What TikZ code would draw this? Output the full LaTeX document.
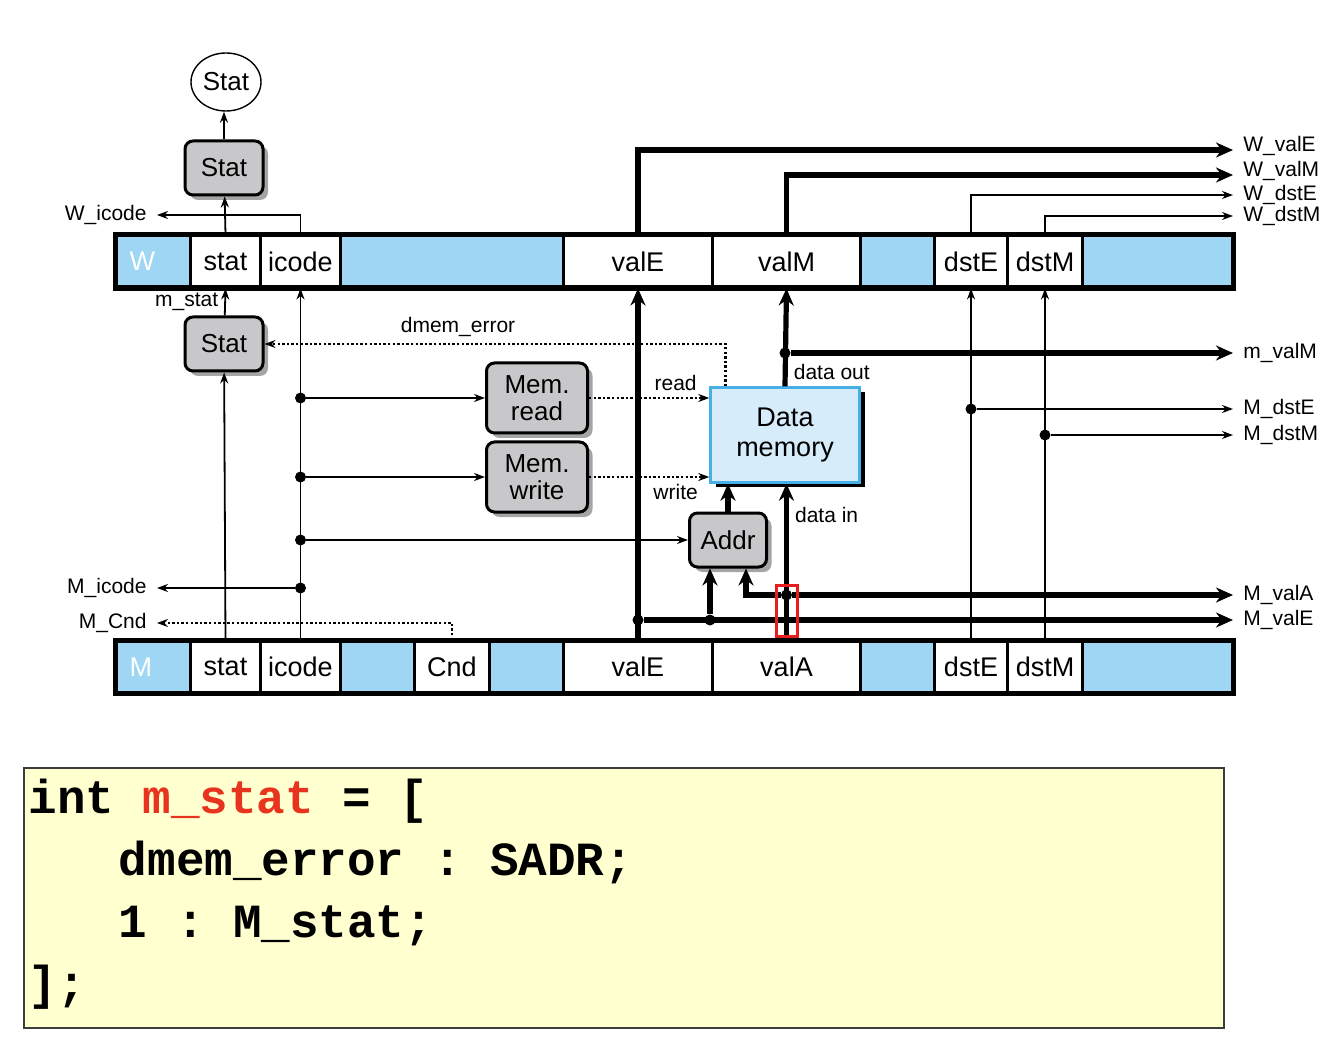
\documentclass[tikz,border=0pt]{standalone}
\usepackage{fontspec}
\setmainfont{Liberation Sans}
\newfontfamily\hclfont{Liberation Mono}
\usepackage{xcolor}
\definecolor{regblue}{RGB}{158,214,243}
\definecolor{memfill}{RGB}{214,236,250}
\definecolor{memedge}{RGB}{70,175,230}
\definecolor{boxgray}{RGB}{200,200,202}
\definecolor{shadowgray}{RGB}{165,165,168}
\definecolor{codebg}{RGB}{255,255,208}
\definecolor{codeedge}{RGB}{60,60,60}
\definecolor{hclred}{RGB}{232,52,30}
\definecolor{focusred}{RGB}{232,30,30}
\usepackage{tikz}
\usetikzlibrary{arrows.meta}
\usetikzlibrary{shapes.geometric}
\usetikzlibrary{shadows}
\newcommand{\unitpx}{0.5pt}
\newcommand{\heightreg}{25.5pt}
\newcommand{\widthunit}{39pt}
\newcommand{\heightunit}{27pt}
\newcommand{\cellfont}{\fontsize{13.5}{15}\selectfont}
\newcommand{\boxfont}{\fontsize{13}{13.5}\selectfont}
\newcommand{\sigfont}{\fontsize{10.5}{12}\selectfont}
\newcommand{\hclgap}[1]{\hspace*{#1em}}
\tikzset{
    cell/.style={anchor=west, draw, line width=1.5pt, fill=white, inner sep=0pt,
        minimum height=\heightreg, font=\cellfont},
    padcell/.style={cell, fill=regblue},
    tagcell/.style={padcell, text=white, text width=24pt, align=left, inner xsep=6.5pt},
    unit/.style={draw, line width=1.5pt, rounded corners=4pt, fill=boxgray, align=center,
        font=\boxfont, minimum width=\widthunit, minimum height=\heightunit,
        drop shadow={shadow xshift=2.5pt, shadow yshift=-2.5pt, fill=shadowgray, opacity=1}},
    memory/.style={draw=memedge, line width=1.2pt, fill=memfill, align=center,
        font=\fontsize{13.5}{15}\selectfont, minimum width=74.5pt, minimum height=47.5pt,
        drop shadow={shadow xshift=2.5pt, shadow yshift=-2.5pt, fill=black, opacity=1}},
    status/.style={draw, ellipse, line width=0.7pt, fill=white, font=\boxfont,
        inner sep=0.5pt, minimum width=35pt, minimum height=29pt},
    sig/.style={font=\sigfont, inner sep=3pt},
    port/.style={sig, inner xsep=5pt},
    wire/.style={line width=0.9pt, -{Stealth[length=5.5pt, width=4pt]}},
    bus/.style={line width=2.6pt, -{Stealth[length=8.5pt, width=7.5pt]}},
    ctrl/.style={line width=1.3pt, dash pattern=on 1.2pt off 1.1pt, -{Stealth[length=5.5pt, width=4pt]}},
    joint/.style={circle, fill, inner sep=0pt, minimum size=5.5pt},
    focus/.style={draw=focusred, line width=1.5pt, inner sep=0pt},
    hcl/.style={draw=codeedge, line width=1pt, fill=codebg, align=left,
        inner xsep=2.5pt, inner ysep=0pt, text width=595pt,
        text height=22.5pt, text depth=107.5pt,
        font=\hclfont\bfseries\fontsize{23.8}{31}\selectfont}
}
\begin{document}
\begin{tikzpicture}[x=0.5pt, y=-0.5pt]
    \useasboundingbox (0,0) rectangle (1340,1048);

    % W register
    \path (115,261.5)
        node[tagcell, minimum width=74*\unitpx] (w-tag) {W}
        ++(74,0) node[cell, minimum width=70*\unitpx] (w-stat) {stat}
        ++(70,0) node[cell, minimum width=80*\unitpx] (w-icode) {icode}
        ++(80,0) node[padcell, minimum width=223*\unitpx] (w-pad1) {}
        ++(223,0) node[cell, minimum width=149*\unitpx] (w-valE) {valE}
        ++(149,0) node[cell, minimum width=148*\unitpx] (w-valM) {valM}
        ++(148,0) node[padcell, minimum width=74*\unitpx] (w-pad2) {}
        ++(74,0) node[cell, minimum width=73*\unitpx] (w-dstE) {dstE}
        ++(73,0) node[cell, minimum width=75*\unitpx] (w-dstM) {dstM}
        ++(75,0) node[padcell, minimum width=150*\unitpx] (w-pad3) {};
    \draw[line width=2.2pt] (w-tag.north west) rectangle (w-pad3.south east);

    % M register
    \path (115,667)
        node[tagcell, minimum width=74*\unitpx] (m-tag) {M}
        ++(74,0) node[cell, minimum width=70*\unitpx] (m-stat) {stat}
        ++(70,0) node[cell, minimum width=80*\unitpx] (m-icode) {icode}
        ++(80,0) node[padcell, minimum width=74*\unitpx] (m-pad1) {}
        ++(74,0) node[cell, minimum width=75*\unitpx] (m-cnd) {Cnd}
        ++(75,0) node[padcell, minimum width=74*\unitpx] (m-pad2) {}
        ++(74,0) node[cell, minimum width=149*\unitpx] (m-valE) {valE}
        ++(149,0) node[cell, minimum width=148*\unitpx] (m-valA) {valA}
        ++(148,0) node[padcell, minimum width=74*\unitpx] (m-pad3) {}
        ++(74,0) node[cell, minimum width=73*\unitpx] (m-dstE) {dstE}
        ++(73,0) node[cell, minimum width=75*\unitpx] (m-dstM) {dstM}
        ++(75,0) node[padcell, minimum width=150*\unitpx] (m-pad4) {};
    \draw[line width=2.2pt] (m-tag.north west) rectangle (m-pad4.south east);

    % write-back side
    \node[unit] (stat-w) at (224,168) {Stat};
    \node[status] (stat-out) at (226,82) {Stat};
    \draw[wire] (w-stat.north) -- (stat-w);
    \draw[wire] (stat-w) -- (stat-w |- stat-out.south);

    \node[port, anchor=east] (w-icode-out) at (157,215) {W\_icode};
    \draw[wire] (w-icode.north) |- (w-icode-out);

    \node[port, anchor=west] (w-valE-out) at (1233,146) {W\_valE};
    \node[port, anchor=west] (w-valM-out) at (1233,171) {W\_valM};
    \node[port, anchor=west] (w-dstE-out) at (1233,195) {W\_dstE};
    \node[port, anchor=west] (w-dstM-out) at (1233,216) {W\_dstM};
    \draw[bus] (w-valE.north) |- ([yshift=-2pt]w-valE-out.west);
    \draw[bus] (w-valM.north) |- ([yshift=-2pt]w-valM-out.west);
    \draw[wire] (w-dstE.north) |- (w-dstE-out);
    \draw[wire] (w-dstM.north) |- (w-dstM-out);

    % memory stage
    \node[unit] (stat-m) at (224,344) {Stat};
    \node[unit, minimum width=50.5pt, minimum height=35pt] (mem-read) at (537,398) {Mem.\\read};
    \node[unit, minimum width=50.5pt, minimum height=35pt] (mem-write) at (537,477) {Mem.\\write};
    \node[memory] (dmem) at (785,435) {Data\\memory};
    \node[unit, minimum width=38.5pt] (addr) at (728,540) {Addr};

    \draw[wire] (m-stat.north) -- (stat-m);
    \draw[wire] (stat-m) -- (w-stat.south) node[midway, left, sig] {m\_stat};
    \draw[wire] (m-icode.north) -- (w-icode.south);

    \node[joint] (j-read) at (m-icode.north |- mem-read.west) {};
    \node[joint] (j-write) at (m-icode.north |- mem-write.west) {};
    \node[joint] (j-addr) at (m-icode.north |- addr.west) {};
    \draw[wire] (j-read) -- (mem-read);
    \draw[wire] (j-write) -- (mem-write);
    \draw[wire] (j-addr) -- (addr);

    \node[port, anchor=east] (m-icode-out) at (157,588) {M\_icode};
    \node[joint] (j-icode) at (m-icode.north |- m-icode-out.east) {};
    \draw[wire] (j-icode) -- (m-icode-out);

    \node[port, anchor=east] (m-cnd-out) at (157,623) {M\_Cnd};
    \draw[ctrl] (m-cnd.north) |- (m-cnd-out);

    \draw[ctrl] (mem-read) -- (mem-read -| dmem.west) node[pos=0.72, above, sig] {read};
    \draw[ctrl] (mem-write) -- (mem-write -| dmem.west) node[pos=0.72, below, sig] {write};
    \coordinate (dmem-err) at ([xshift=8pt]dmem.north west);
    \draw[ctrl] (dmem-err) |- (stat-m) node[pos=0.79, above, sig] {dmem\_error};

    \draw[bus] (addr) -- (addr |- dmem.south);
    \coordinate (addr-in-e) at ([xshift=-9pt]addr.south);
    \coordinate (addr-in-a) at ([xshift=9pt]addr.south);

    \node[port, anchor=west] (m-valE-out) at (1233,620) {M\_valE};
    \node[joint] (j-valE) at (m-valE.north |- m-valE-out.west) {};
    \node[joint] (j-addr-e) at (addr-in-e |- j-valE) {};
    \draw[bus] (m-valE.north) -- (w-valE.south);
    \draw[bus] (j-valE) -- (m-valE-out);
    \draw[bus] (j-addr-e) -- (addr-in-e);

    \node[port, anchor=west] (m-valA-out) at (1233,595) {M\_valA};
    \node[joint] (j-valA) at (m-valA.north |- m-valA-out.west) {};
    \draw[bus] (m-valA.north) -- (m-valA.north |- dmem.south) node[pos=0.8, right, sig] {data in};
    \draw[bus] (j-valA) -- (m-valA-out);
    \draw[bus] (j-valA) -| (addr-in-a);

    \node[port, anchor=west] (m-valM-out) at (1233,353) {m\_valM};
    \node[joint] (j-valM) at (dmem.north |- m-valM-out.west) {};
    \draw[bus] (dmem.north) -- (w-valM.south) node[pos=0.15, right, sig] {data out};
    \draw[bus] (j-valM) -- (m-valM-out);

    \node[port, anchor=west] (m-dstE-out) at (1233,409) {M\_dstE};
    \node[port, anchor=west] (m-dstM-out) at (1233,435) {M\_dstM};
    \node[joint] (j-dstE) at (m-dstE.north |- m-dstE-out.west) {};
    \node[joint] (j-dstM) at (m-dstM.north |- m-dstM-out.west) {};
    \draw[wire] (m-dstE.north) -- (w-dstE.south);
    \draw[wire] (m-dstM.north) -- (w-dstM.south);
    \draw[wire] (j-dstE) -- (m-dstE-out);
    \draw[wire] (j-dstM) -- (m-dstM-out);

    \node[focus, minimum width=10.5pt, minimum height=25.5pt] (valA-focus) at ([yshift=-7.75pt]j-valA) {};

    % HCL code
    \node[hcl, anchor=north west] (hcl-code) at (22.5,767) {%
        int\hclgap{0.6}\textcolor{hclred}{m\_stat}\hclgap{0.6}=\hclgap{0.6}[\\
        \hclgap{1.9}dmem\_error\hclgap{0.6}:\hclgap{0.6}SADR;\\
        \hclgap{1.9}1\hclgap{0.6}:\hclgap{0.6}M\_stat;\\
        ];};
\end{tikzpicture}
\end{document}
